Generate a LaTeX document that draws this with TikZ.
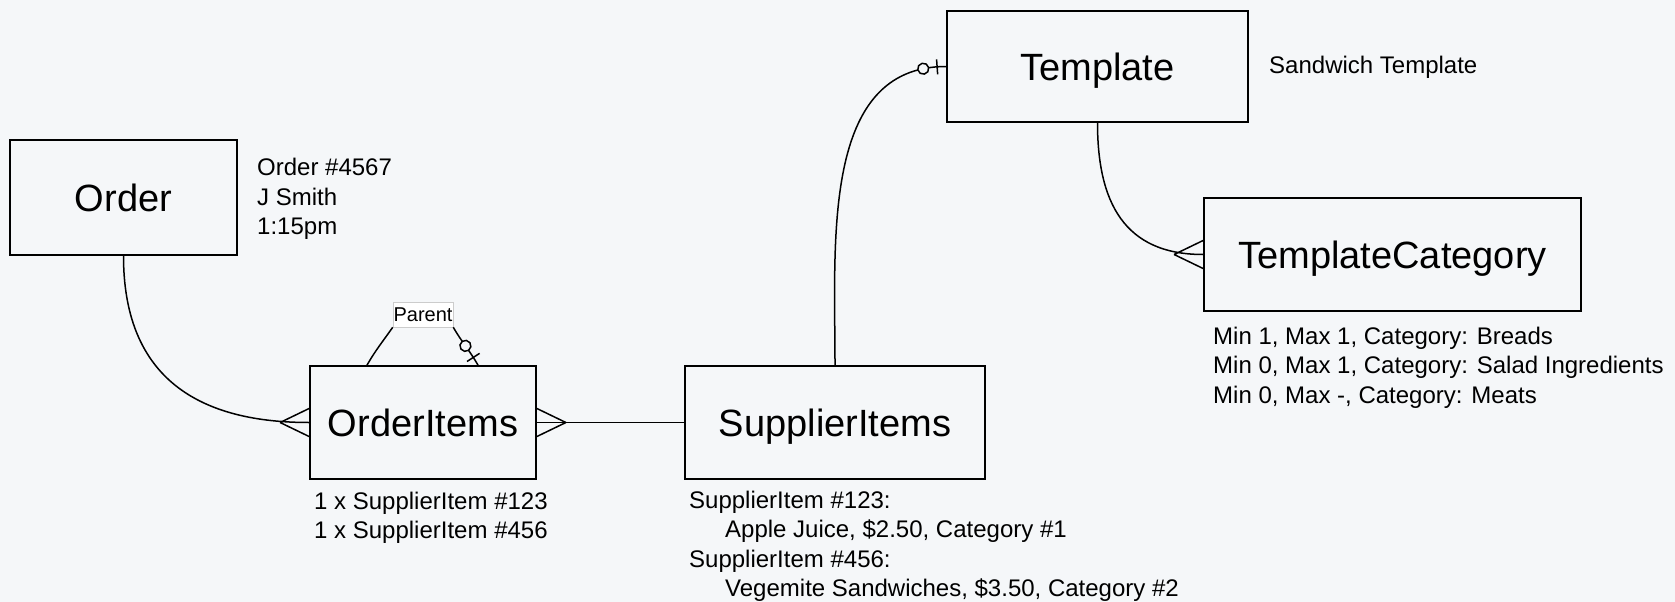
\documentclass[tikz,border=0pt]{standalone}
\usepackage{fontspec}
\setmainfont{Liberation Sans}
\usetikzlibrary{decorations.markings}
\definecolor{bg}{RGB}{245,247,249}

\tikzset{ent/.style={draw, line width=1.8pt, inner sep=0pt, font=\fontsize{38}{40}\selectfont, text height=27.5pt, text depth=0pt}}
\tikzset{note/.style={anchor=north west, inner sep=0pt, align=left, font=\fontsize{24}{29.5}\selectfont}}
\tikzset{crowfoot/.style={postaction={decorate, decoration={markings, mark=at position 0 with {\draw[line width=1.5pt] (29pt,0pt) -- (0pt,14pt) (29pt,0pt) -- (0pt,-14pt);}}}}}
\tikzset{zeroone/.style={postaction={decorate, decoration={markings, mark=at position 9pt with {\draw[line width=1.5pt] (0pt,-7.5pt) -- (0pt,7.5pt);}, mark=at position 23pt with {\draw[line width=1.5pt, fill=bg] (0pt,0pt) circle (5.5pt);}}}}}

\begin{document}
\begin{tikzpicture}[x=1pt, y=1pt, conn/.style={line width=1.5pt}]
    \fill[bg] (0,0) rectangle (1675,-602);
    \useasboundingbox (0,0) rectangle (1675,-602);

    \node[ent, minimum width=227pt, minimum height=115pt] (o) at (123.5,-197.5) {Order};
    \node[ent, minimum width=226pt, minimum height=113pt] (oi) at (423,-422.5) {OrderItems};
    \node[ent, minimum width=300pt, minimum height=113pt] (si) at (835,-422.5) {SupplierItems};
    \node[ent, minimum width=301pt, minimum height=111pt] (t) at (1097.5,-66.5) {Template};
    \node[ent, minimum width=377pt, minimum height=113pt] (tc) at (1392.5,-254.5) {TemplateCategory};

    \node[draw=black!20, fill=white, line width=0.6pt, inner sep=0pt, minimum width=60pt, minimum height=25pt, font=\fontsize{20}{22}\selectfont, text height=14.5pt, text depth=0pt] (p) at (423,-314.5) {Parent};

    \node[note] (on) at (257,-158) {Order \#4567\\J Smith\\1:15pm};
    \node[note, anchor=base west] (tn) at (1269,-74) {Sandwich Template};
    \node[note] (tcn) at (1213,-326.5) {Min 1, Max 1, Category: Breads\\Min 0, Max 1, Category: Salad Ingredients\\Min 0, Max -, Category: Meats};
    \node[note] (oin) at (314,-491.5) {1 x SupplierItem \#123\\1 x SupplierItem \#456};
    \node[note] (sin) at (689,-490.5) {SupplierItem \#123:\\\hspace*{36pt}Apple Juice, \$2.50, Category \#1\\SupplierItem \#456:\\\hspace*{36pt}Vegemite Sandwiches, \$3.50, Category \#2};

    \draw[conn, crowfoot] (oi.west) to[out=180, in=-90, looseness=1.2] (o.south);
    \draw[conn, crowfoot] (oi.east) -- (si.west);
    \draw[conn, zeroone] (t.west) to[out=180, in=90] (si.north);
    \draw[conn, crowfoot] (tc.west) to[out=180, in=-90, looseness=1.2] (t.south);
    \draw[conn] ([xshift=-56pt]oi.north) to[out=60, in=-125] (p.south west);
    \draw[conn, zeroone] ([xshift=55pt]oi.north) to[out=120, in=-60] (p.south east);
\end{tikzpicture}
\end{document}
